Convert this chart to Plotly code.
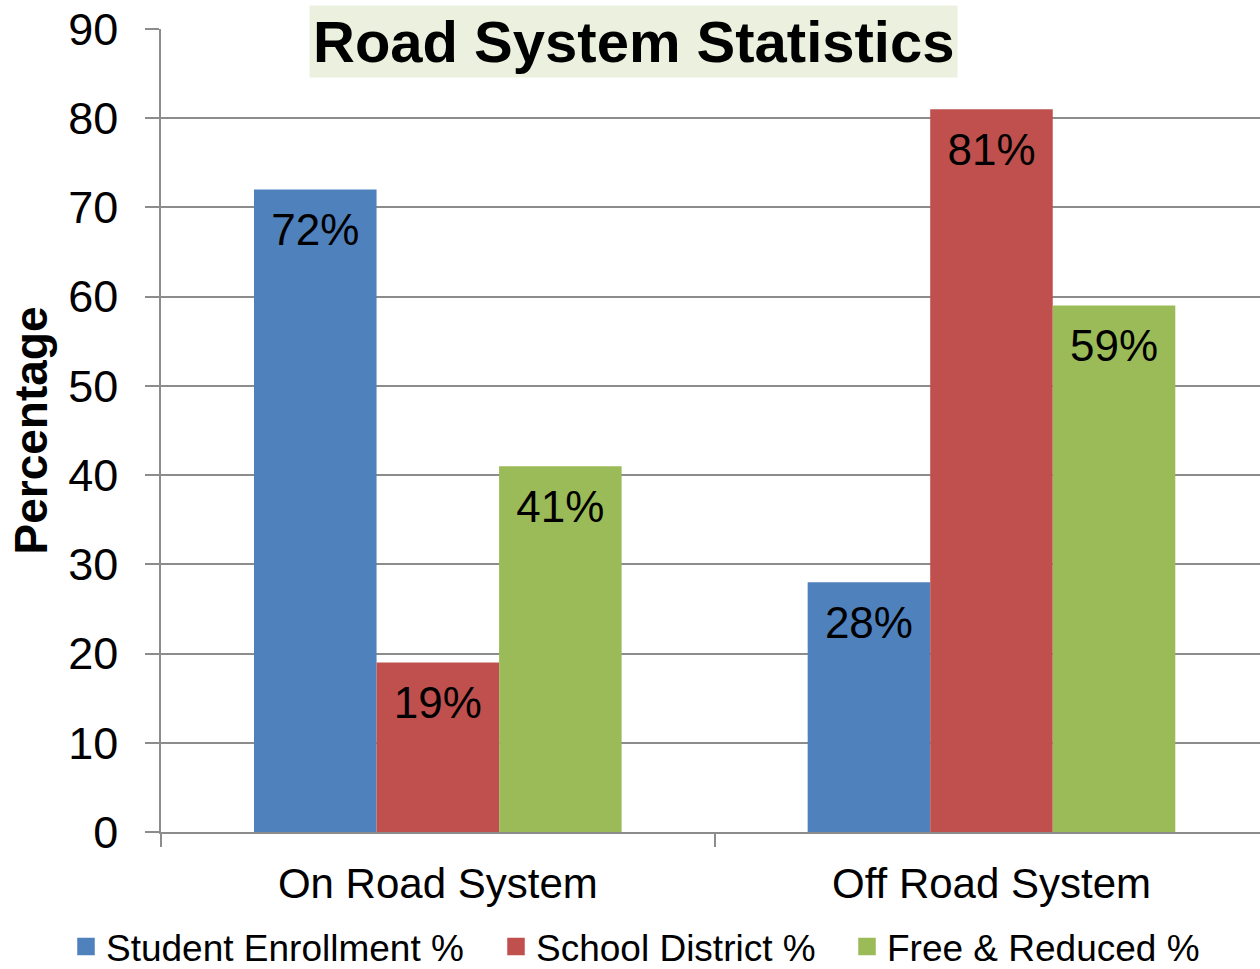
import plotly.graph_objects as go

categories = ["On Road System", "Off Road System"]
series_names = ["Student Enrollment %", "School District %", "Free & Reduced %"]
student_enrollment = [72, 28]
school_district = [19, 81]
free_reduced = [41, 59]
colors = ["#4F81BD", "#C0504D", "#9BBB59"]
y_ticks = [0, 10, 20, 30, 40, 50, 60, 70, 80, 90]

FONT = "Liberation Sans, Arial, sans-serif"
GRID = "#8C8C8C"
W, H = 1260, 969

fig = go.Figure()
all_series = [student_enrollment, school_district, free_reduced]
legend_ids = ["legend", "legend2", "legend3"]
for name, vals, col in zip(series_names, all_series, colors):
    fig.add_trace(go.Bar(
        x=categories, y=vals, name=name, showlegend=False,
        marker=dict(color=col, line=dict(width=0)),
        hoverinfo="skip",
    ))
for name, vals in zip(series_names, all_series):
    fig.add_trace(go.Scatter(
        x=categories, y=vals, mode="markers+text",
        text=[f"{v}%" for v in vals], textposition="bottom center",
        textfont=dict(family=FONT, size=44, color="black"),
        marker=dict(size=35, opacity=0),
        showlegend=False, hoverinfo="skip", cliponaxis=False,
    ))
# legend entries (square swatches) on a hidden overlay subplot
for name, col, lg in zip(series_names, colors, legend_ids):
    fig.add_trace(go.Scatter(
        x=[None], y=[None], mode="markers", name=name, legend=lg,
        xaxis="x2", yaxis="y2",
        marker=dict(symbol="square", size=18, color=col, line=dict(width=1.5, color=col)),
        hoverinfo="skip",
    ))

def legend_cfg(x_px):
    return dict(
        orientation="h", xref="container", yref="container",
        x=x_px / W, xanchor="left", y=1 - 947 / H, yanchor="middle",
        font=dict(family=FONT, size=37, color="black"),
        bgcolor="rgba(0,0,0,0)",
        itemclick=False, itemdoubleclick=False,
    )

fig.update_layout(
    width=W, height=H,
    margin=dict(l=161, r=0, t=29, b=137),
    paper_bgcolor="white", plot_bgcolor="white",
    barmode="group", bargap=0.336,
    scattermode="group", scattergap=0.336,
    font=dict(family=FONT, color="black"),
    showlegend=True,
    legend=legend_cfg(66),
    legend2=legend_cfg(496),
    legend3=legend_cfg(847),
    xaxis2=dict(overlaying="x", visible=False, range=[0, 1]),
    yaxis2=dict(overlaying="y", visible=False, range=[0, 1]),
    annotations=[dict(
        text="<b>Road System Statistics</b>",
        xref="paper", yref="paper", x=0.43, y=0.9845,
        xanchor="center", yanchor="middle", showarrow=False,
        font=dict(family=FONT, size=58, color="black"),
        bgcolor="#EBF1DE", borderpad=3,
    )],
)
fig.layout.xaxis.update(
    range=[-0.5, 1.485], showline=True, linecolor=GRID, linewidth=1.5,
    ticks="outside", tickson="boundaries", ticklen=13, tickcolor=GRID, tickwidth=1.5,
    tickfont=dict(family=FONT, size=42, color="black"), showgrid=False,
    ticklabelstandoff=14,
)
fig.layout.yaxis.update(
    range=[0, 90], tickvals=y_ticks, showline=True, linecolor=GRID, linewidth=1.5,
    ticks="outside", ticklen=14, tickcolor=GRID, tickwidth=1.5,
    tickfont=dict(family=FONT, size=45, color="black"),
    showgrid=True, gridcolor=GRID, gridwidth=1.5, zeroline=False,
    ticklabelstandoff=18,
    title=dict(text="<b>Percentage</b>", font=dict(family=FONT, size=46, color="black"), standoff=6),
)

fig.write_html("out.html", config={"displayModeBar": False},
               post_script="document.body.style.margin='0';")
